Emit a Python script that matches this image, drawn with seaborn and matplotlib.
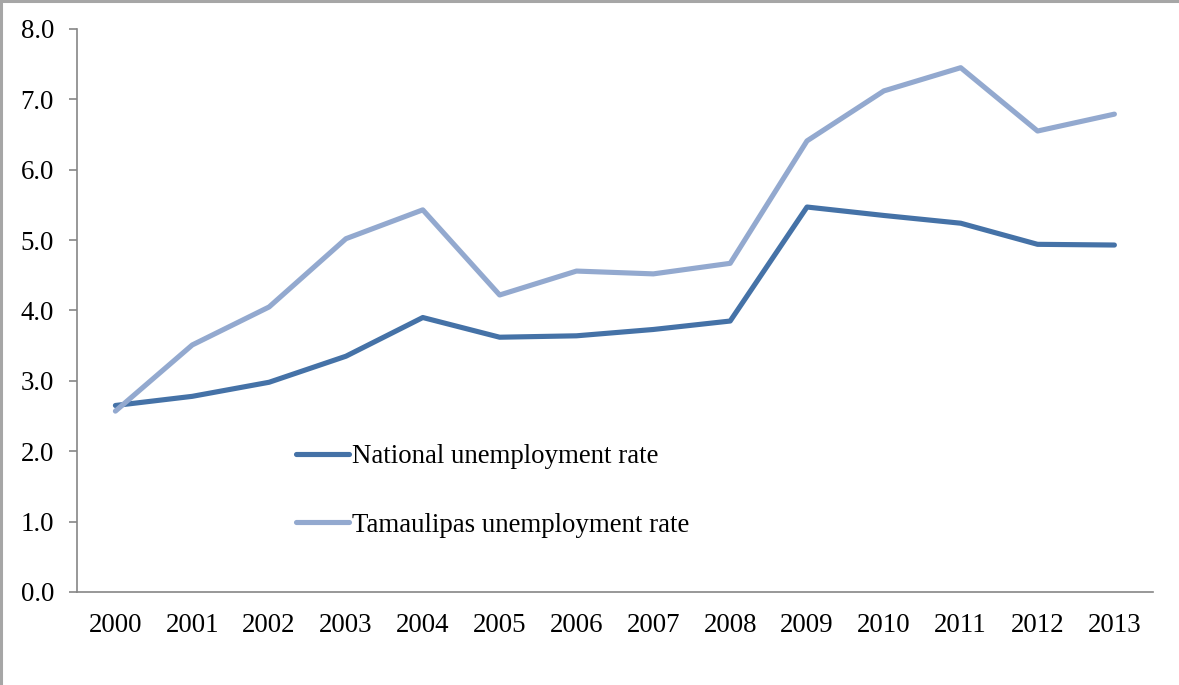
import matplotlib
matplotlib.use("Agg")
import matplotlib.pyplot as plt
from matplotlib.patches import Rectangle
import seaborn as sns
import pandas as pd
import numpy as np

years = list(range(2000, 2014))
national = [2.65, 2.78, 2.98, 3.35, 3.90, 3.62, 3.64, 3.73, 3.85, 5.47, 5.35, 5.24, 4.94, 4.93]
tamaulipas = [2.57, 3.51, 4.05, 5.02, 5.43, 4.22, 4.56, 4.52, 4.67, 6.41, 7.12, 7.45, 6.55, 6.79]
series_names = ["National unemployment rate", "Tamaulipas unemployment rate"]
y_ticks = [0, 1, 2, 3, 4, 5, 6, 7, 8]

df = pd.DataFrame({
    "year": years * 2,
    "rate": national + tamaulipas,
    "series": [series_names[0]] * len(years) + [series_names[1]] * len(years),
})

sns.set_style("white")
plt.rcParams["font.family"] = ["Liberation Serif", "DejaVu Serif"]
plt.rcParams["font.size"] = 19.4
plt.rcParams["text.color"] = "black"
plt.rcParams["xtick.labelcolor"] = "black"
plt.rcParams["ytick.labelcolor"] = "black"

fig = plt.figure(figsize=(11.79, 6.85), dpi=100)
ax = fig.add_axes([0.0653, 0.1358, 0.9125, 0.8219])

palette = {series_names[0]: "#4572A7", series_names[1]: "#93A9CF"}
sns.lineplot(data=df, x="year", y="rate", hue="series", palette=palette,
             linewidth=3.7, ax=ax)
for line in ax.lines:
    line.set_solid_capstyle("round")

ax.set_xlim(years[0] - 0.5, years[-1] + 0.5)
ax.set_ylim(0, 8)
ax.set_xticks(years, labels=[str(y) for y in years])
ax.set_xticks(np.arange(years[0] - 0.5, years[-1] + 1, 1), minor=True)
ax.set_yticks(y_ticks, labels=[f"{v:.1f}" for v in y_ticks])
ax.tick_params(axis="x", which="major", length=0, pad=15, labelcolor="black")
ax.tick_params(axis="x", which="minor", length=5.5, width=1.2, color="#868686", direction="out")
ax.tick_params(axis="y", length=5.5, width=1.2, color="#868686", direction="out", pad=11,
               left=True, labelcolor="black")
ax.set_xlabel("")
ax.set_ylabel("")

for side in ["top", "right"]:
    ax.spines[side].set_visible(False)
for side in ["left", "bottom"]:
    ax.spines[side].set_color("#868686")
    ax.spines[side].set_linewidth(1.2)

leg = ax.legend(loc="upper left", bbox_to_anchor=(0.204, 0.262), frameon=False,
                handlelength=1.95, handletextpad=0.1, labelspacing=1.6,
                borderpad=0, borderaxespad=0, fontsize=19.4)
for lh in leg.get_lines():
    lh.set_linewidth(3.7)
    lh.set_solid_capstyle("round")
for t in leg.get_texts():
    t.set_color("black")

fig.patches.append(Rectangle((0.001, -0.5), 1.5, 1.498, transform=fig.transFigure,
                             fill=False, edgecolor="#a6a6a6", linewidth=2.2))

fig.savefig("out.png", dpi=100)
